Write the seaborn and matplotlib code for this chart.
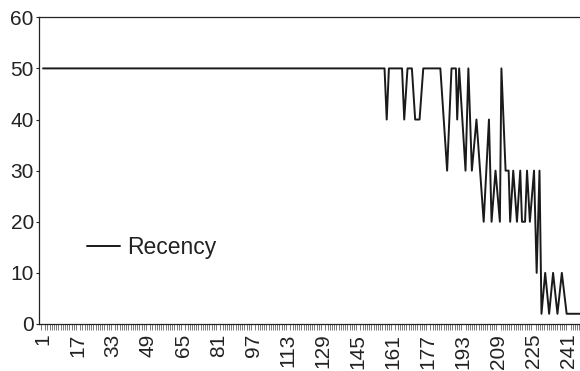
import matplotlib
matplotlib.use("Agg")
from matplotlib import pyplot as plt
from matplotlib.ticker import MultipleLocator
import numpy as np
import seaborn as sns

# vertices of the line
day = [1, 157, 158, 159, 165, 166, 167.5, 169.5, 171, 173,
       174.7, 182.5, 185.6, 187.6, 189.6, 190.2, 191.1, 194, 195.3, 196.9,
       199, 202.3, 204.7, 205.9, 207.7, 209.7, 210.4, 212.3, 213.7, 214.4,
       215.8, 217.5, 219, 219.8, 221.2, 222.1, 223.4, 225.3, 226.5, 227.8,
       228.7, 230.4, 232.2, 234, 236, 238, 240.2, 246.3]
recency = [50, 50, 40, 50, 50, 40, 50, 50, 40, 40,
           50, 50, 30, 50, 50, 40, 50, 30, 50, 30,
           40, 20, 40, 20, 30, 20, 50, 30, 30, 20,
           30, 20, 30, 20, 20, 30, 20, 30, 10, 30,
           2, 10, 2, 10, 2, 10, 2, 2]
xtick_labels = list(range(1, 242, 16))
ytick_labels = [0, 10, 20, 30, 40, 50, 60]

sns.set_style("white")
plt.rcParams['font.family'] = ['Liberation Sans', 'DejaVu Sans']

fig = plt.figure(figsize=(5.8, 3.71), dpi=100)
ax = fig.add_axes([0.0678, 0.1267, 0.9322, 0.8267])

sns.lineplot(x=day, y=recency, ax=ax, color='#1a1a1a', linewidth=1.4,
             estimator=None, label='Recency')

ax.set_xlim(-0.7, 246.3)
ax.set_ylim(0, 60)
ax.set_xticks(xtick_labels)
ax.set_xticklabels([str(v) for v in xtick_labels], rotation=90)
ax.xaxis.set_minor_locator(MultipleLocator(1))
ax.set_yticks(ytick_labels)

ax.tick_params(axis='x', which='major', length=4, width=0.6, color='#444444',
               labelsize=15, labelcolor='#222222', pad=3, direction='out')
ax.tick_params(axis='x', which='minor', length=4, width=0.5, color='#444444',
               direction='out', bottom=True)
ax.tick_params(axis='y', length=2, width=0.8, color='#222222',
               labelsize=15, labelcolor='#222222', pad=2, direction='out', left=True)

for side in ['left', 'bottom', 'top']:
    ax.spines[side].set_visible(True)
    ax.spines[side].set_color('#222222')
    ax.spines[side].set_linewidth(0.9)
ax.spines['right'].set_visible(False)

leg = ax.legend(loc='center left', bbox_to_anchor=(0.088, 0.25), frameon=False,
                fontsize=16.5, handlelength=1.45, handletextpad=0.3,
                borderpad=0, borderaxespad=0)
for t in leg.get_texts():
    t.set_color('#222222')

plt.savefig('out.png', dpi=100)
